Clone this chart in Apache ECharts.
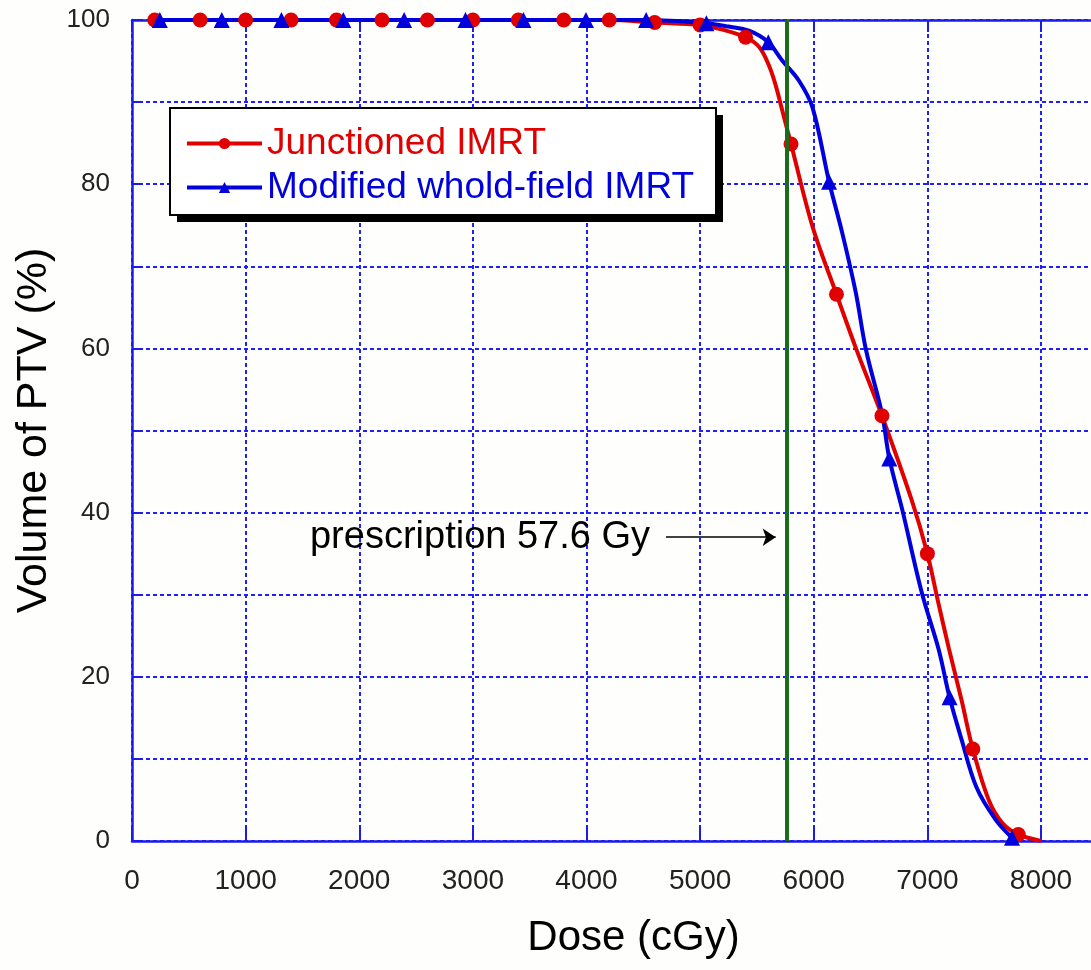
<!DOCTYPE html>
<html>
<head>
<meta charset="utf-8">
<script src="https://cdn.jsdelivr.net/npm/echarts@6/dist/echarts.min.js"></script>
<style>
html,body{margin:0;padding:0;background:#fefefc;}
#chart{width:1091px;height:970px;}
</style>
</head>
<body>
<div id="chart"></div>
<script>
// ---- data ----
const seriesNames = ['Junctioned IMRT', 'Modified whold-field IMRT'];

const redDose   = [200, 600, 1000, 1400, 1800, 2200, 2600, 3000, 3400, 3800, 4200, 4600, 5000, 5150, 5400, 5520, 5610, 5670, 5715, 5800, 5990, 6200, 6380, 6600, 6860, 7000, 7090, 7190, 7300, 7400, 7540, 7660, 7800, 8000];
const redVolume = [100, 100, 100, 100, 100, 100, 100, 100, 100, 100, 100, 99.7, 99.4, 99.0, 97.9, 96.7, 94.3, 91.8, 89.4, 84.9, 74.8, 66.6, 59.7, 51.8, 41.6, 35.0, 29.4, 23.4, 17.2, 11.2, 5.0, 2.2, 0.8, 0];
const redMarkerDose = [200, 600, 1000, 1400, 1800, 2200, 2600, 3000, 3400, 3800, 4200, 4600, 5000, 5400, 5800, 6200, 6600, 7000, 7400, 7800];

const blueDose   = [245, 790, 1315, 1860, 2395, 2935, 3445, 3995, 4525, 5055, 5250, 5430, 5600, 5720, 5870, 5990, 6135, 6250, 6370, 6460, 6600, 6665, 6780, 6950, 7100, 7195, 7300, 7430, 7600, 7745];
const blueVolume = [100, 100, 100, 100, 100, 100, 100, 100, 100, 99.6, 99.2, 98.7, 97.3, 95.1, 92.6, 89.3, 80.3, 74.1, 66.8, 59.8, 52.1, 46.6, 40.3, 30.3, 23.3, 17.5, 12.4, 6.6, 2.6, 0.4];
const blueMarkerDose = [245, 790, 1315, 1860, 2395, 2935, 3445, 3995, 4525, 5055, 5600, 6135, 6665, 7195, 7745];

const prescriptionDose = 5760;
const arrowFrom = [4700, 37];
const arrowTo = [5665, 37];
const prescriptionText = 'prescription 57.6 Gy';

const xTickValues = [0, 1000, 2000, 3000, 4000, 5000, 6000, 7000, 8000];
const yTickLabels = [0, 20, 40, 60, 80, 100];

// ---- build ----
const FONT = '"Liberation Sans", Arial, sans-serif';
const RED = '#e00000';
const BLUE = '#0000dd';
const AXIS_BLUE = '#1c1ce8';
const GRID_BLUE = '#2020ff';
const X_MAX = 8440;

function buildData(dose, vol, markers) {
  return dose.map((d, i) => {
    const item = { value: [d, vol[i]] };
    if (markers.indexOf(d) < 0) item.symbol = 'none';
    return item;
  });
}

const chart = echarts.init(document.getElementById('chart'), null, { renderer: 'canvas' });

chart.setOption({
  animation: false,
  backgroundColor: '#fefefc',
  textStyle: { fontFamily: FONT },
  grid: { left: 132, top: 20, right: 0, height: 821, containLabel: false },
  graphic: [
    { type: 'rect', z: 3, silent: true, shape: { x: 177, y: 115, width: 546, height: 107 }, style: { fill: '#000' } },
    { type: 'rect', z: 3, silent: true, shape: { x: 170, y: 108, width: 546, height: 107 }, style: { fill: '#ffffff', stroke: '#000', lineWidth: 2 } }
  ],
  legend: {
    orient: 'vertical',
    left: 170,
    top: 108,
    z: 5,
    padding: [17, 19, 13, 15],
    itemGap: 7,
    itemWidth: 75,
    itemHeight: 14,
    backgroundColor: 'transparent',
    borderWidth: 0,
    lineStyle: { width: 4 },
    textStyle: { fontSize: 37, fontFamily: FONT },
    data: [
      { name: seriesNames[0], textStyle: { color: RED } },
      { name: seriesNames[1], textStyle: { color: BLUE } }
    ]
  },
  xAxis: [
    {
      type: 'value',
      position: 'bottom',
      min: 0,
      max: X_MAX,
      interval: 1000,
      name: 'Dose (cGy)',
      nameLocation: 'middle',
      nameGap: 76,
      nameTextStyle: { fontSize: 42, color: '#000', fontFamily: FONT, padding: [0, 0, 0, 44] },
      axisLine: { show: true, lineStyle: { color: AXIS_BLUE, width: 2.5 } },
      axisTick: { show: true, inside: true, length: 15, customValues: xTickValues, lineStyle: { color: AXIS_BLUE, width: 2 } },
      axisLabel: {
        margin: 26,
        fontSize: 28,
        color: '#222',
        fontFamily: FONT,
        showMaxLabel: false,
        formatter: v => (xTickValues.indexOf(v) >= 0 ? String(v) : '')
      },
      splitLine: { show: true, lineStyle: { color: GRID_BLUE, width: 2, type: [4, 3] } }
    },
    {
      type: 'value',
      position: 'top',
      min: 0,
      max: X_MAX,
      interval: 1000,
      axisLine: { show: true, lineStyle: { color: AXIS_BLUE, width: 2.5 } },
      axisTick: { show: true, inside: true, length: 12, customValues: xTickValues, lineStyle: { color: AXIS_BLUE, width: 2 } },
      axisLabel: { show: false },
      splitLine: { show: false }
    }
  ],
  yAxis: {
    type: 'value',
    min: 0,
    max: 100,
    interval: 10,
    name: 'Volume of PTV (%)',
    nameLocation: 'middle',
    nameGap: 72,
    nameTextStyle: { fontSize: 43, color: '#000', fontFamily: FONT },
    axisLine: { show: true, lineStyle: { color: AXIS_BLUE, width: 2.5 } },
    axisTick: { show: true, inside: true, length: 10, lineStyle: { color: AXIS_BLUE, width: 2 } },
    axisLabel: {
      margin: 22,
      fontSize: 26,
      color: '#222',
      fontFamily: FONT,
      formatter: v => (yTickLabels.indexOf(v) >= 0 ? String(v) : '')
    },
    splitLine: { show: true, lineStyle: { color: GRID_BLUE, width: 2, type: [4, 3] } }
  },
  series: [
    {
      name: seriesNames[0],
      type: 'line',
      xAxisIndex: 0,
      smooth: 0.35,
      symbol: 'circle',
      symbolSize: 15,
      showSymbol: true,
      itemStyle: { color: RED },
      lineStyle: { color: RED, width: 4 },
      data: buildData(redDose, redVolume, redMarkerDose),
      markLine: {
        silent: true,
        symbol: ['none', 'none'],
        label: { show: false },
        lineStyle: { color: '#1b6b1b', width: 4, type: 'solid' },
        data: [{ xAxis: prescriptionDose }]
      }
    },
    {
      name: seriesNames[1],
      type: 'line',
      xAxisIndex: 0,
      smooth: 0.35,
      symbol: 'triangle',
      symbolSize: 16,
      showSymbol: true,
      itemStyle: { color: BLUE },
      lineStyle: { color: BLUE, width: 4 },
      data: buildData(blueDose, blueVolume, blueMarkerDose),
      markLine: {
        silent: true,
        symbol: ['none', 'arrow'],
        symbolSize: 13,
        lineStyle: { color: '#000', width: 1.5, type: 'solid' },
        label: {
          show: true,
          position: 'start',
          distance: 16,
          formatter: prescriptionText,
          fontSize: 38,
          color: '#000',
          fontFamily: FONT
        },
        data: [[{ coord: arrowFrom }, { coord: arrowTo }]]
      }
    }
  ]
});
</script>
</body>
</html>
